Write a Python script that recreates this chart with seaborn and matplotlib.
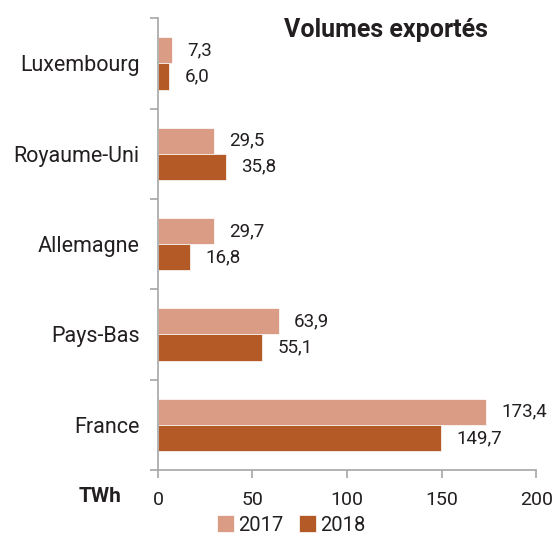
import matplotlib
matplotlib.use("Agg")
import matplotlib.pyplot as plt
import pandas as pd
import seaborn as sns
from matplotlib.ticker import FixedLocator

countries = ["Luxembourg", "Royaume-Uni", "Allemagne", "Pays-Bas", "France"]
values_2017 = [7.3, 29.5, 29.7, 63.9, 173.4]
values_2018 = [6.0, 35.8, 16.8, 55.1, 149.7]
years = ["2017", "2018"]
x_ticks = [0, 50, 100, 150, 200]

COLORS = {"2017": "#DA9C84", "2018": "#B35A27"}
TEXT = "#231F20"
AXIS = "#A6A6A6"

df = pd.DataFrame({
    "Pays": countries * 2,
    "TWh": values_2017 + values_2018,
    "Année": [years[0]] * len(countries) + [years[1]] * len(countries),
})

sns.set_style("white")
plt.rcParams["font.family"] = ["Roboto", "DejaVu Sans"]

fig = plt.figure(figsize=(5.58, 5.35), dpi=100)
ax = fig.add_axes([0.283, 0.1215, 0.678, 0.8445])

sns.barplot(
    data=df, y="Pays", x="TWh", hue="Année", orient="h",
    order=countries, hue_order=years, palette=COLORS,
    width=0.58, saturation=1, edgecolor="white", linewidth=0.5,
    ax=ax, legend=True,
)

for container in ax.containers:
    ax.bar_label(
        container,
        labels=[f"{v:.1f}".replace(".", ",") for v in container.datavalues],
        padding=11, fontsize=13.5, color=TEXT,
    )

ax.set_xlim(0, 200)
ax.set_ylim(len(countries) - 0.5, -0.5)
ax.set_xticks(x_ticks)
ax.set_xticklabels([str(t) for t in x_ticks], fontsize=14, color=TEXT)
ax.yaxis.set_minor_locator(FixedLocator([i - 0.5 for i in range(len(countries) + 1)]))
ax.tick_params(axis="y", which="major", length=0, labelsize=15.5, labelcolor=TEXT, pad=13)
ax.tick_params(axis="y", which="minor", length=6, color=AXIS, width=1.2, left=True)
ax.tick_params(axis="x", which="major", length=6, color=AXIS, width=1.2, bottom=True,
               pad=9)
ax.set_xlabel("")
ax.set_ylabel("")

for side in ["top", "right"]:
    ax.spines[side].set_visible(False)
for side in ["left", "bottom"]:
    ax.spines[side].set_color(AXIS)
    ax.spines[side].set_linewidth(1.2)

fig.text(386 / 558, 1 - 30 / 535, "Volumes exportés",
         ha="center", va="center", fontsize=18, fontweight="bold", color=TEXT)
fig.text(100 / 558, 1 - 496 / 535, "TWh", ha="center", va="center",
         fontsize=15, fontweight="bold", color=TEXT)

ax.legend(
    loc="center", bbox_to_anchor=(291 / 558, 1 - 525 / 535),
    bbox_transform=fig.transFigure, ncol=2, frameon=False,
    fontsize=14.5, handlelength=0.85, handleheight=0.85, handletextpad=0.2,
    columnspacing=0.8, labelcolor=TEXT, borderpad=0.1,
)

fig.savefig("out.png", dpi=100)
